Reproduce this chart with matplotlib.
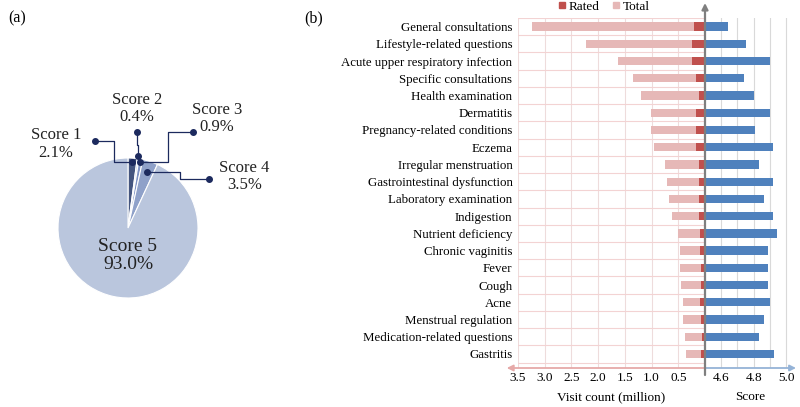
import numpy as np
import matplotlib
matplotlib.use('Agg')
import matplotlib.pyplot as plt
from matplotlib.lines import Line2D

plt.rcParams['font.family'] = ['Liberation Serif', 'DejaVu Serif']

# pie data
pie_labels = ['Score 1', 'Score 2', 'Score 3', 'Score 4', 'Score 5']
pie_values = [2.1, 0.4, 0.9, 3.5, 93.0]
pie_colors = ['#44557f', '#a9bde0', '#7f93c4', '#8fa1c9', '#bac6dd']

# bar data
categories = ['General consultations', 'Lifestyle-related questions',
              'Acute upper respiratory infection', 'Specific consultations',
              'Health examination', 'Dermatitis', 'Pregnancy-related conditions',
              'Eczema', 'Irregular menstruation', 'Gastrointestinal dysfunction',
              'Laboratory examination', 'Indigestion', 'Nutrient deficiency',
              'Chronic vaginitis', 'Fever', 'Cough', 'Acne', 'Menstrual regulation',
              'Medication-related questions', 'Gastritis']
total = [3.23, 2.23, 1.62, 1.35, 1.20, 1.02, 1.01, 0.95, 0.75, 0.71,
         0.68, 0.62, 0.50, 0.47, 0.46, 0.45, 0.41, 0.42, 0.37, 0.36]
rated = [0.21, 0.24, 0.25, 0.16, 0.12, 0.17, 0.16, 0.16, 0.12, 0.12,
         0.11, 0.11, 0.09, 0.10, 0.07, 0.07, 0.10, 0.08, 0.06, 0.07]
score = [4.64, 4.75, 4.90, 4.74, 4.80, 4.90, 4.81, 4.92, 4.83, 4.92,
         4.86, 4.92, 4.94, 4.89, 4.89, 4.89, 4.90, 4.86, 4.83, 4.925]
left_ticks = [3.5, 3.0, 2.5, 2.0, 1.5, 1.0, 0.5]
right_ticks = [4.6, 4.8, 5.0]

W, H = 800, 407
fig = plt.figure(figsize=(8, 4.07), dpi=100)

def px_axes(x0, y0, x1, y1):
    # axes from pixel box (top-left origin)
    return fig.add_axes([x0 / W, 1 - y1 / H, (x1 - x0) / W, (y1 - y0) / H])

# ---------- (a) pie ----------
cx, cy, R = 128, 228, 70
axp = px_axes(0, 0, 300, H)
axp.pie(pie_values, colors=pie_colors, startangle=90, counterclock=False,
        wedgeprops=dict(edgecolor='white', linewidth=0.8))
axp.set_xlim(-cx / R, (300 - cx) / R)
axp.set_ylim((cy - H) / R, cy / R)
axp.set_aspect('auto')
axp.axis('off')

# mid angles of wedges
frac = np.array(pie_values) / sum(pie_values)
ends = 90 - 360 * np.cumsum(frac)
starts = ends + 360 * frac
mids = np.radians((starts + ends) / 2)
dot_r = [0.94, 1.04, 0.96, 0.84]
navy = '#1c2a5e'

# elbow paths (x, y in pie radius units) after the wedge dot
paths = [
    [('h', -0.196), ('v', 1.243), ('h', -0.471)],
    [('v', 1.186), ('h', 0.124), ('v', 1.367)],
    [('h', 0.567), ('v', 1.376), ('h', 0.924)],
    [('h', 0.743), ('v', 0.696), ('h', 1.161)],
]
label_pos = [(-1.03, 1.20), (0.124, 1.71), (1.27, 1.56), (1.66, 0.74)]
for i in range(4):
    x0 = dot_r[i] * np.cos(mids[i])
    y0 = dot_r[i] * np.sin(mids[i])
    xs, ys = [x0], [y0]
    for kind, val in paths[i]:
        if kind == 'h':
            xs.append(val); ys.append(ys[-1])
        else:
            xs.append(xs[-1]); ys.append(val)
    axp.plot(xs, ys, color=navy, lw=0.9, zorder=5)
    axp.plot([xs[0], xs[-1]], [ys[0], ys[-1]], 'o', color=navy, ms=4, zorder=6)
    axp.text(label_pos[i][0], label_pos[i][1],
             '%s\n%.1f%%' % (pie_labels[i], pie_values[i]),
             ha='center', va='center', fontsize=12, color='#222222', linespacing=1.1)
axp.text(0, -0.39, '%s\n%.1f%%' % (pie_labels[4], pie_values[4]),
         ha='center', va='center', fontsize=14, color='#222222', linespacing=1.1)

fig.text(8 / W, 1 - 18 / H, '(a)', fontsize=11.5, ha='left', va='center')
fig.text(304 / W, 1 - 18 / H, '(b)', fontsize=11.5, ha='left', va='center')

# ---------- (b) bars ----------
y = np.arange(len(categories))
ymax = 19.5 + (368 - 362.6) / 17.2
axL = px_axes(518, 18, 705, 368)
axR = px_axes(705, 18, 796, 368)

pink = '#e6b8b7'
red = '#c0504d'
blue = '#4f81bd'

axL.barh(y, total, height=0.48, color=pink, zorder=3)
axL.barh(y, rated, height=0.48, color=red, zorder=4)
axL.set_xlim(3.5, 0)
axL.set_ylim(ymax, -0.5)
axL.set_yticks(y)
axL.set_yticklabels(categories, fontsize=9.3)
axL.set_xticks(left_ticks)
axL.set_xticklabels(['%.1f' % t for t in left_ticks], fontsize=9.5)
axL.tick_params(length=0, pad=4)
axL.tick_params(axis='x', pad=3)
for t in left_ticks:
    axL.axvline(t, color='#eedcdc', lw=0.8, zorder=1)
for b in np.arange(-0.5, 20, 1):
    axL.axhline(b, color='#f3d3d3', lw=0.8, zorder=1)
for s in axL.spines.values():
    s.set_visible(False)
axL.set_xlabel('Visit count (million)', fontsize=9.5, labelpad=5)

axR.barh(y, np.array(score) - 4.5, left=4.5, height=0.48, color=blue, zorder=3)
axR.set_xlim(4.5, 5.06)
axR.set_ylim(ymax, -0.5)
axR.set_yticks([])
axR.set_xticks(right_ticks)
axR.set_xticklabels(['%.1f' % t for t in right_ticks], fontsize=9.5)
axR.tick_params(length=0, pad=3)
for t in np.arange(4.6, 5.01, 0.1):
    axR.axvline(t, color='#d9d9d9', lw=0.8, zorder=1)
for s in axR.spines.values():
    s.set_visible(False)
axR.set_xlabel('Score', fontsize=9.5, labelpad=5)

# axis arrows
axL.annotate('', xy=(-0.06, 0), xytext=(1, 0), xycoords='axes fraction',
             arrowprops=dict(arrowstyle='-|>', color='#e6a9a8', lw=1.3,
                             mutation_scale=9, shrinkA=0, shrinkB=0), annotation_clip=False)
axR.annotate('', xy=(1.0, 0), xytext=(0, 0), xycoords='axes fraction',
             arrowprops=dict(arrowstyle='-|>', color='#95b3d7', lw=1.3,
                             mutation_scale=9, shrinkA=0, shrinkB=0), annotation_clip=False)
axR.annotate('', xy=(0, 1 + 15 / 350), xytext=(0, -7 / 350), xycoords='axes fraction',
             arrowprops=dict(arrowstyle='-|>', color='#7f7f7f', lw=1.6,
                             mutation_scale=9, shrinkA=0, shrinkB=0), annotation_clip=False)

handles = [Line2D([], [], marker='s', ls='', color=red, ms=5),
           Line2D([], [], marker='s', ls='', color=pink, ms=5)]
fig.legend(handles, ['Rated', 'Total'], loc='center', bbox_to_anchor=(604 / W, 1 - 7 / H),
           ncol=2, frameon=False, fontsize=9.5, handlelength=0.6, handletextpad=0.2,
           columnspacing=1.0, borderpad=0)

fig.savefig('out.png', dpi=100)
